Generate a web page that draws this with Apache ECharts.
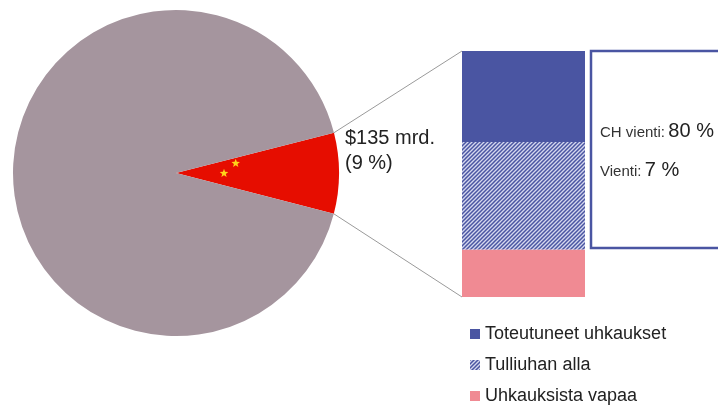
<!DOCTYPE html>
<html><head><meta charset="utf-8">
<script src="https://cdn.jsdelivr.net/npm/echarts@6/dist/echarts.min.js"></script>
<style>html,body{margin:0;padding:0;background:#fff}#c{width:718px;height:406px}</style>
</head><body><div id="c"></div>
<script>
// ---- data ----
const pieNames = ['Kiina', 'Muu vienti'];
const pieValues = [8, 92];
const pieLabel = '$135 mrd.\n(9 %)';
const barCategory = ['Kiina'];
const barSeries = ['Toteutuneet uhkaukset', 'Tulliuhan alla', 'Uhkauksista vapaa'];
const barValues = [50, 59, 26];
const boxTexts = [['CH vienti:', '80 %'], ['Vienti:', '7 %']];

// ---- style ----
const FONT = 'Liberation Sans, Arial, sans-serif';
const BLUE = '#4a55a2', PINK = '#f08a93', GREY = '#a5959e', RED = '#e60d00';
const PIE_C = [176, 173], PIE_R = 163, START = 14.3;
const GRID = {left: 462, top: 51, width: 123, height: 246};

function hatch() {
  const c = document.createElement('canvas');
  c.width = c.height = 4;
  const g = c.getContext('2d');
  g.fillStyle = '#d4d7ee'; g.fillRect(0, 0, 4, 4);
  g.strokeStyle = BLUE; g.lineWidth = 1.5;
  g.beginPath();
  g.moveTo(0, 4); g.lineTo(4, 0);
  g.moveTo(-1, 1); g.lineTo(1, -1);
  g.moveTo(3, 5); g.lineTo(5, 3);
  g.stroke();
  return c;
}
const barColors = [BLUE, {image: hatch(), repeat: 'repeat'}, PINK];

// slice edge points from pie geometry
const total = pieValues.reduce((a, b) => a + b, 0);
const a1 = START * Math.PI / 180;
const a2 = (START - pieValues[0] / total * 360) * Math.PI / 180;
const p1 = [PIE_C[0] + PIE_R * Math.cos(a1), PIE_C[1] - PIE_R * Math.sin(a1)];
const p2 = [PIE_C[0] + PIE_R * Math.cos(a2), PIE_C[1] - PIE_R * Math.sin(a2)];

function star(cx, cy, R) {
  const pts = [];
  for (let i = 0; i < 10; i++) {
    const r = i % 2 ? R * 0.42 : R;
    const ang = -Math.PI / 2 + i * Math.PI / 5;
    pts.push([cx + r * Math.cos(ang), cy + r * Math.sin(ang)]);
  }
  return {type: 'polygon', shape: {points: pts}, style: {fill: '#ffd21a'}, z: 10};
}

const chart = echarts.init(document.getElementById('c'), null, {renderer: 'canvas'});

// stacking bottom->top: pink, hatched, blue
const order = [2, 1, 0];
const series = [{
  type: 'pie', center: PIE_C, radius: PIE_R, startAngle: START, clockwise: true,
  label: {show: false}, labelLine: {show: false}, silent: true,
  itemStyle: {borderWidth: 0},
  data: pieNames.map((n, i) => ({name: n, value: pieValues[i], itemStyle: {color: i === 0 ? RED : GREY}}))
}];
order.forEach(i => series.push({
  type: 'bar', name: barSeries[i], stack: 's', barWidth: '100%',
  itemStyle: {color: barColors[i]}, silent: true,
  data: [barValues[i]]
}));

const textGraphics = boxTexts.map((t, i) => ({
  type: 'text', left: 600, top: 121 + i * 39,
  style: {
    text: '{s|' + t[0] + '} {b|' + t[1] + '}',
    rich: {
      s: {fontSize: 15, fontFamily: FONT, fill: '#333', lineHeight: 24, verticalAlign: 'bottom', padding: [0, 0, 1, 0]},
      b: {fontSize: 20, fontFamily: FONT, fill: '#222', lineHeight: 24, verticalAlign: 'bottom'}
    }
  }
}));

chart.setOption({
  animation: false,
  grid: GRID,
  xAxis: {type: 'category', data: barCategory, show: false},
  yAxis: {type: 'value', min: 0, max: barValues.reduce((a, b) => a + b, 0), show: false},
  legend: {
    data: barSeries, orient: 'vertical', left: 470, top: 324, padding: 0,
    itemWidth: 10, itemHeight: 10, itemGap: 11, itemTextGap: 5, icon: 'rect',
    textStyle: {fontSize: 18, fontFamily: FONT, color: '#222', lineHeight: 20}
  },
  series: series,
  graphic: [
    {type: 'line', shape: {x1: p1[0], y1: p1[1], x2: GRID.left, y2: GRID.top}, style: {stroke: '#9a9a9a', lineWidth: 1}},
    {type: 'line', shape: {x1: p2[0], y1: p2[1], x2: GRID.left, y2: GRID.top + GRID.height}, style: {stroke: '#9a9a9a', lineWidth: 1}},
    {type: 'rect', shape: {x: 591, y: 51, width: 150, height: 197}, style: {fill: '#fff', stroke: BLUE, lineWidth: 2.5}},
    {type: 'text', left: 345, top: 126, style: {text: pieLabel, fontSize: 20, fontFamily: FONT, fill: '#222', lineHeight: 25}},
    star(235.7, 163.3, 4.5),
    star(224, 173.3, 4.5)
  ].concat(textGraphics)
});
</script></body></html>
